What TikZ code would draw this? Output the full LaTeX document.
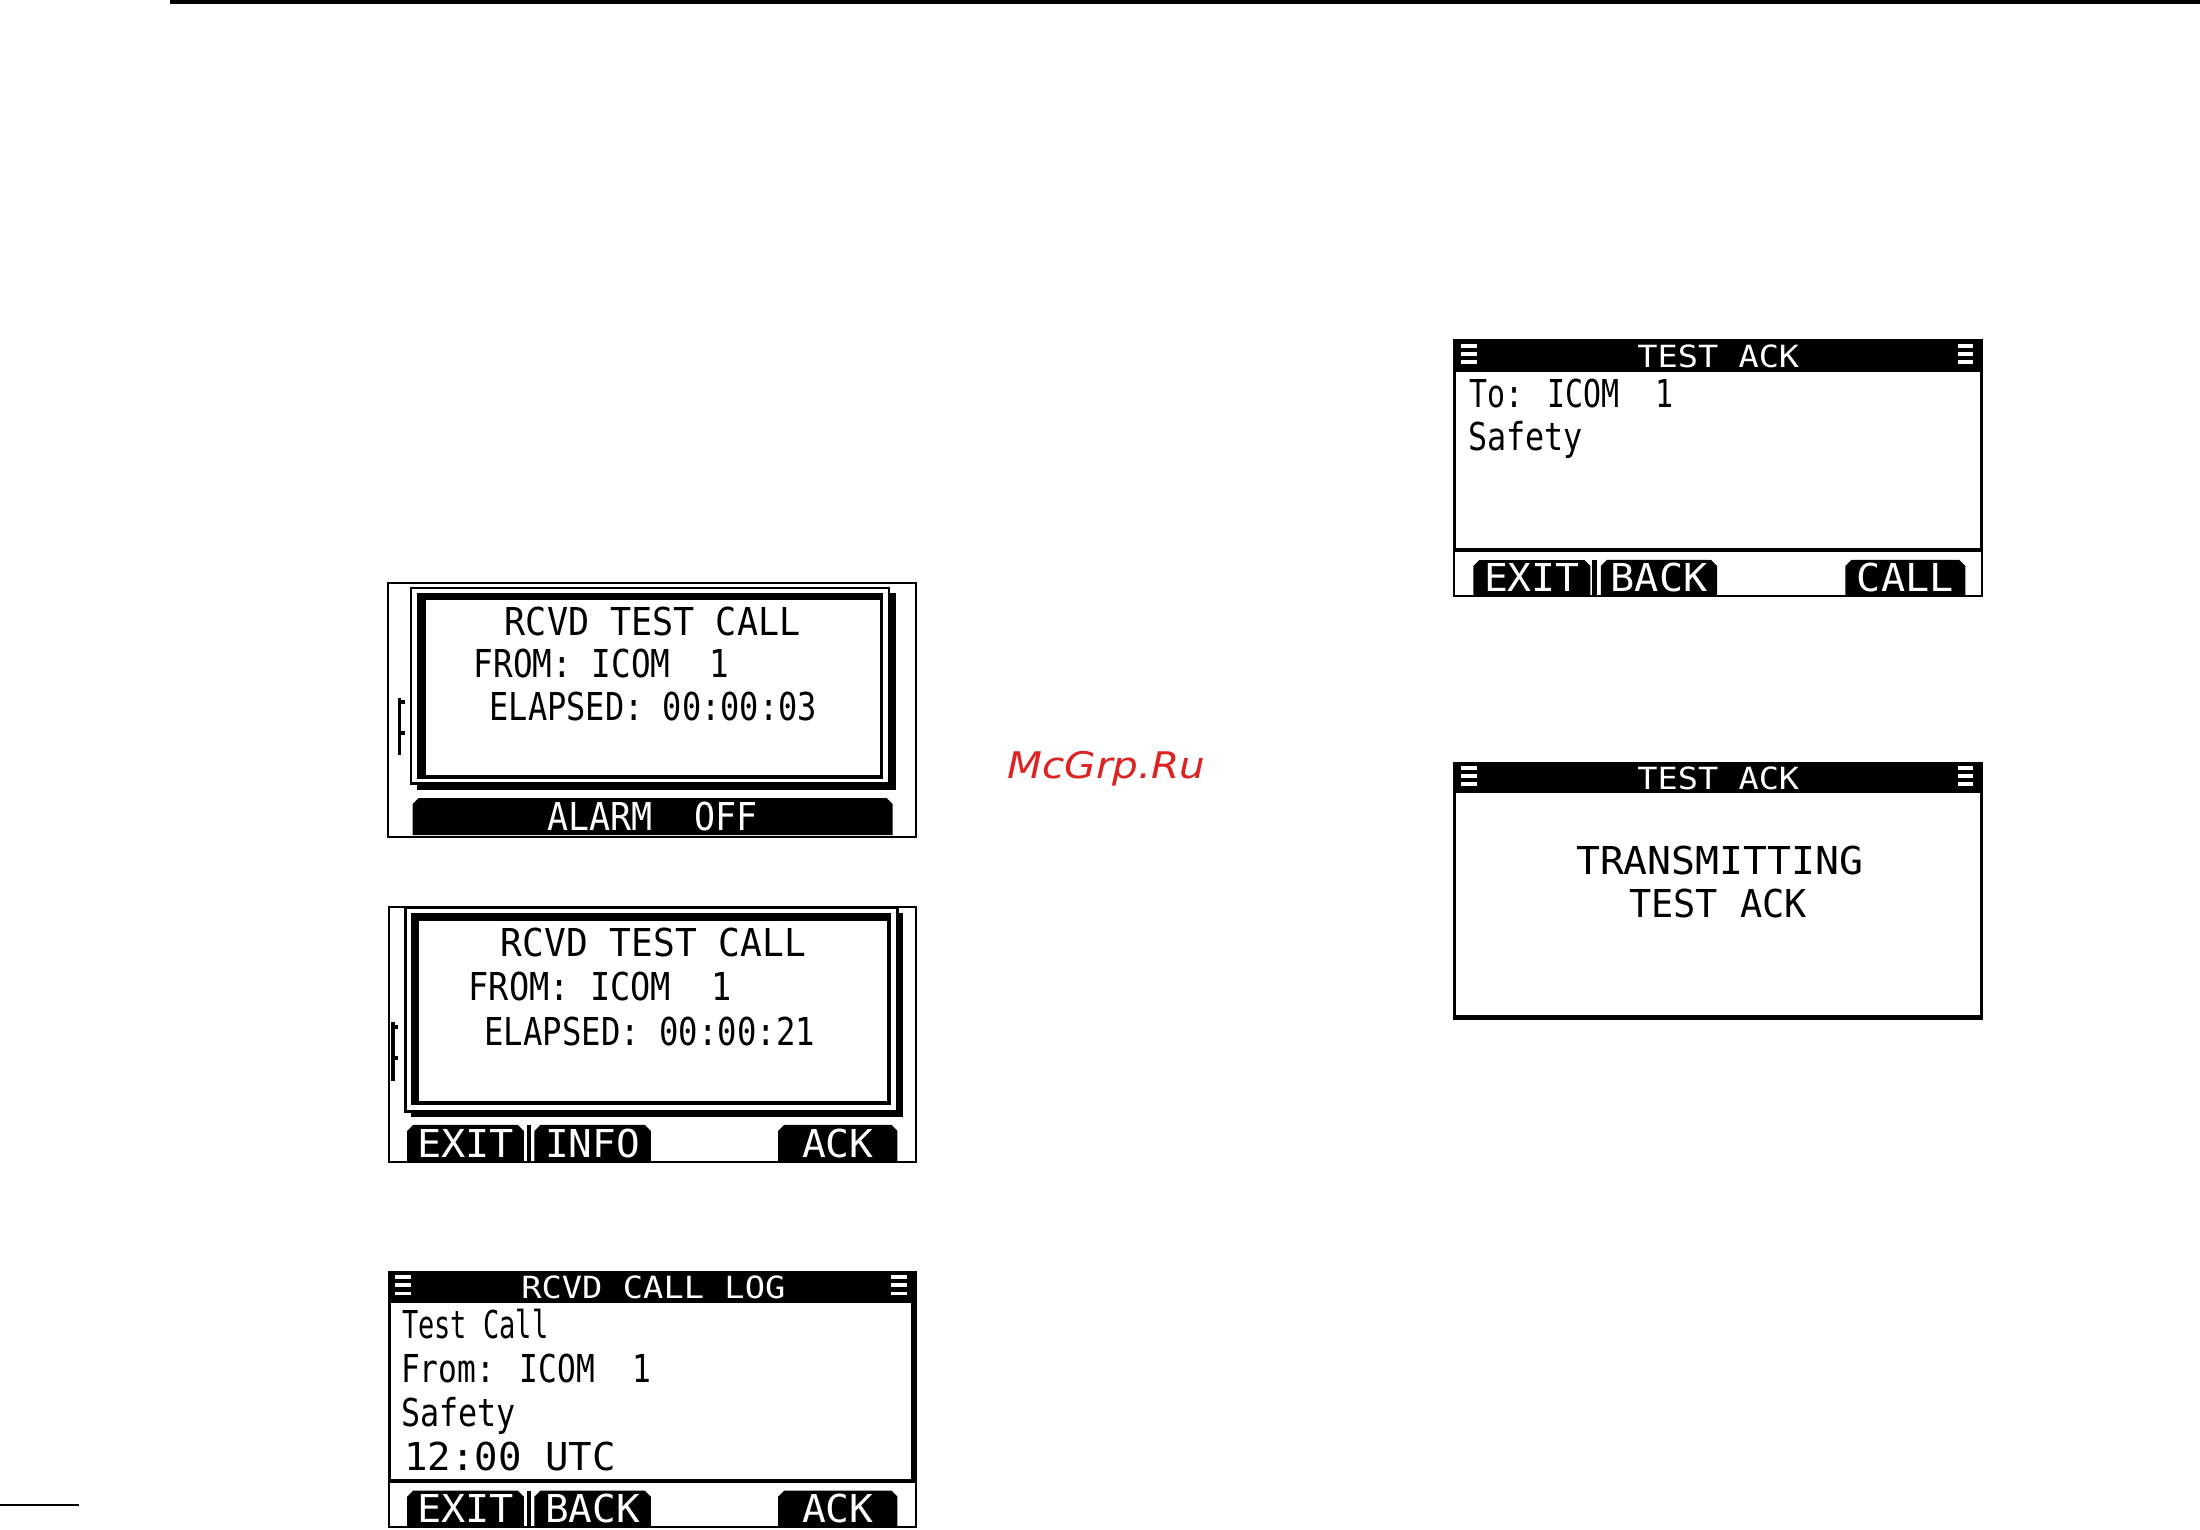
\documentclass[tikz,border=0pt]{standalone}
\usepackage{fontspec}
\usepackage{graphicx}
\usetikzlibrary{shapes.misc}
\newfontfamily\lcdfont{DejaVu Sans Mono}
\newfontfamily\markfont{DejaVu Sans}
\newlength{\pxu}\setlength{\pxu}{0.031569cm}
% #1 = printed width in screen units
\newcommand{\fitw}[2]{\resizebox{#1\pxu}{\height}{#2}}
\tikzset{
  x=0.03cm,y=-0.03cm,
  leftscreens/.style={x=0.031569cm,xshift=-0.5961cm},
  rightscreens/.style={x=0.031569cm,xshift=-2.2594cm},
  lcdbody/.style={font=\lcdfont\fontsize{32.8}{34}\selectfont,inner sep=0pt,anchor=base west,text=black},
  lcdtitle/.style={font=\lcdfont\fontsize{26.1}{28}\selectfont,inner sep=0pt,anchor=base west,text=white},
  softkey/.style={shape=chamfered rectangle,chamfered rectangle corners={north west,north east},
    chamfered rectangle sep=3*0.03cm,fill=black,draw=none,inner sep=0pt,text=white,
    font=\lcdfont\fontsize{32.8}{34}\selectfont},
  blackfill/.style={fill=black,draw=none},
  whitefill/.style={fill=white,draw=none},
  lcdborder/.style={draw=black,line width=2*0.03cm,fill=white},
}
\begin{document}
\begin{tikzpicture}
\useasboundingbox (0,0) rectangle (2200,1529);
\fill[white] (0,0) rectangle (2200,1529);
% page rules
\fill[black] (170,0) rectangle (2200,4);
\fill[black] (0,1504) rectangle (79,1506);

\begin{scope}[leftscreens]
% ---------- screen 1
\draw[lcdborder] (388,583) rectangle (889,837);
\fill[blackfill] (408.3,586.7) rectangle (865,785);
\fill[blackfill] (415,592.7) rectangle (870,790);
\fill[whitefill] (410.7,589.3) rectangle (862.7,782);
\fill[blackfill] (415,592.7) rectangle (858.3,779.3);
\fill[whitefill] (423.3,600) rectangle (855,775);
\fill[blackfill] (397.3,698) rectangle (400,755);
\fill[blackfill] (400,700) rectangle (404,704);
\fill[blackfill] (400,731) rectangle (404,735);
\node[lcdbody] (s1a) at (498.3,635) {\fitw{281}{RCVD TEST CALL}};
\node[lcdbody] (s1b) at (469,677.3) {\fitw{243}{FROM: ICOM\ \ 1}};
\node[lcdbody] (s1c) at (484,720) {\fitw{311}{ELAPSED: 00:00:03}};
\node[softkey,minimum width=456*\pxu,minimum height=37*0.03cm] (s1k) at (639,816.5) {\fitw{200}{ALARM\ \ OFF}};

% ---------- screen 2
\draw[lcdborder] (388.3,906.7) rectangle (889,1161.7);
\fill[blackfill] (402.3,905.7) rectangle (873.3,1113.3);
\fill[blackfill] (409.3,913.3) rectangle (876.7,1116.7);
\fill[whitefill] (405.7,909) rectangle (870.7,1110);
\fill[blackfill] (409.3,913.3) rectangle (866,1105);
\fill[whitefill] (416.7,921) rectangle (861.7,1101);
\fill[blackfill] (390,1021.7) rectangle (394,1080.7);
\fill[blackfill] (394,1025) rectangle (397.5,1029);
\fill[blackfill] (394,1056) rectangle (397.5,1060);
\node[lcdbody] (s2a) at (494.7,956.7) {\fitw{290}{RCVD TEST CALL}};
\node[lcdbody] (s2b) at (464,1000.7) {\fitw{250}{FROM: ICOM\ \ 1}};
\node[lcdbody] (s2c) at (479,1045) {\fitw{314}{ELAPSED: 00:00:21}};
\node[softkey,minimum width=111*\pxu,minimum height=37*0.03cm] (s2k1) at (461.2,1143.4) {\fitw{92}{EXIT}};
\fill[blackfill] (519.3,1125) rectangle (523.3,1161.7);
\node[softkey,minimum width=110.6*\pxu,minimum height=37*0.03cm] (s2k2) at (582,1143.4) {\fitw{90}{INFO}};
\node[softkey,minimum width=113.4*\pxu,minimum height=37*0.03cm] (s2k3) at (815,1143.4) {\fitw{68}{ACK}};

% ---------- screen 3
\draw[lcdborder] (388.3,1272) rectangle (889,1526.7);
\fill[blackfill] (387.3,1271) rectangle (890,1302.7);
\fill[blackfill] (387.3,1302.7) rectangle (390.7,1483.3);
\fill[blackfill] (885,1302.7) rectangle (890,1483.3);
\fill[blackfill] (387.3,1479.3) rectangle (890,1483.3);
\foreach \xa/\xb in {394/409.3,866/881}{
  \fill[white] (\xa,1275) rectangle (\xb,1278.7);
  \fill[white] (\xa,1283.3) rectangle (\xb,1287);
  \fill[white] (\xa,1291.7) rectangle (\xb,1295);
}
\node[lcdtitle] (s3t) at (514,1298.3) {\fitw{251}{RCVD CALL LOG}};
\node[lcdbody] (s3a) at (400.7,1338.3) {\fitw{139}{Test Call}};
\node[lcdbody] (s3b) at (399.7,1382.3) {\fitw{238}{From: ICOM\ \ 1}};
\node[lcdbody] (s3c) at (399.7,1426) {\fitw{109}{Safety}};
\node[lcdbody] (s3d) at (403,1470) {\fitw{201}{12:00 UTC}};
\node[softkey,minimum width=111*\pxu,minimum height=36*0.03cm] (s3k1) at (461.2,1508.7) {\fitw{92}{EXIT}};
\fill[blackfill] (519.3,1490.7) rectangle (523.3,1526.7);
\node[softkey,minimum width=110.6*\pxu,minimum height=36*0.03cm] (s3k2) at (582,1508.7) {\fitw{90}{BACK}};
\node[softkey,minimum width=113.4*\pxu,minimum height=36*0.03cm] (s3k3) at (815,1508.7) {\fitw{68}{ACK}};
\end{scope}

\begin{scope}[rightscreens]
% ---------- screen 4
\draw[lcdborder] (1453.2,340.3) rectangle (1955.3,595.7);
\fill[blackfill] (1452.2,339.3) rectangle (1956.3,371.7);
\fill[blackfill] (1452.2,371.7) rectangle (1455.5,552.3);
\fill[blackfill] (1952.7,371.7) rectangle (1956.3,552.3);
\fill[blackfill] (1452.2,548.3) rectangle (1956.3,552.3);
\foreach \xa/\xb in {1460/1475,1931.7/1946.7}{
  \fill[white] (\xa,344) rectangle (\xb,348.3);
  \fill[white] (\xa,351.7) rectangle (\xb,356);
  \fill[white] (\xa,360) rectangle (\xb,364);
}
\node[lcdtitle] (s4t) at (1627.3,367.7) {\fitw{153.7}{TEST ACK}};
\node[lcdbody] (s4a) at (1467.3,407.7) {\fitw{194}{To: ICOM\ \ 1}};
\node[lcdbody] (s4b) at (1466.3,450.7) {\fitw{109}{Safety}};
\node[softkey,minimum width=111*\pxu,minimum height=35*0.03cm] (s4k1) at (1527.2,577.5) {\fitw{91}{EXIT}};
\fill[blackfill] (1584.5,560) rectangle (1589,595);
\node[softkey,minimum width=110.6*\pxu,minimum height=35*0.03cm] (s4k2) at (1648,577.5) {\fitw{92}{BACK}};
\node[softkey,minimum width=114*\pxu,minimum height=35*0.03cm] (s4k3) at (1882,577.5) {\fitw{92}{CALL}};

% ---------- screen 5
\fill[blackfill] (1452.2,762.3) rectangle (1956.3,1020);
\fill[whitefill] (1455.5,793.3) rectangle (1952.7,1014.7);
\foreach \xa/\xb in {1460/1475,1931.7/1946.7}{
  \fill[white] (\xa,766) rectangle (\xb,770);
  \fill[white] (\xa,774) rectangle (\xb,778);
  \fill[white] (\xa,782) rectangle (\xb,786);
}
\node[lcdtitle] (s5t) at (1627.3,789.3) {\fitw{153.7}{TEST ACK}};
\node[lcdbody] (s5a) at (1569,874) {\fitw{273}{TRANSMITTING}};
\node[lcdbody] (s5b) at (1619.3,917.7) {\fitw{169}{TEST ACK}};
\end{scope}

% ---------- watermark
\node[font=\markfont\itshape\fontsize{31.3}{33}\selectfont,text={rgb,255:red,221;green,34;blue,34},inner sep=0pt,anchor=base west] (mark) at (1007.3,778.3) {\fitw{188}{McGrp.Ru}};
\end{tikzpicture}
\end{document}
